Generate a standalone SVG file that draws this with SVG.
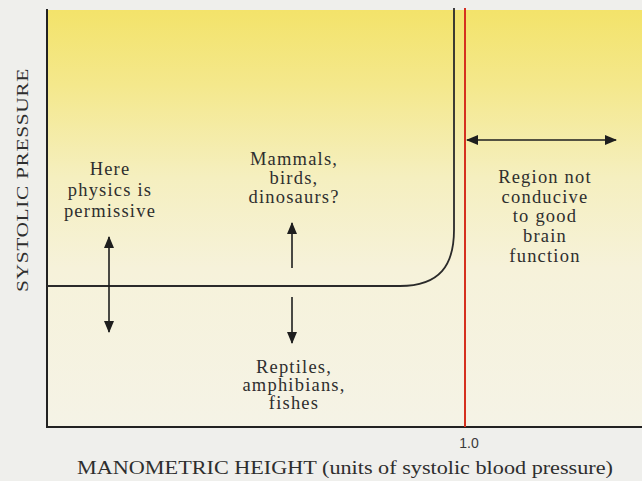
<svg xmlns="http://www.w3.org/2000/svg" width="642" height="481" viewBox="0 0 642 481">
  <defs>
    <linearGradient id="bg" x1="0" y1="0" x2="0" y2="1">
      <stop offset="0" stop-color="#f3e36a"/>
      <stop offset="0.18" stop-color="#f4e88c"/>
      <stop offset="0.4" stop-color="#f5efbf"/>
      <stop offset="0.62" stop-color="#f6f2da"/>
      <stop offset="1" stop-color="#f5f3e6"/>
    </linearGradient>
    <marker id="ah" viewBox="0 0 12 10" refX="11" refY="5" markerWidth="12" markerHeight="10" markerUnits="userSpaceOnUse" orient="auto-start-reverse">
      <path d="M0,0 L12,5 L0,10 Z" fill="#1e1e1e"/>
    </marker>
    <style>
      .t { font-family: "Liberation Serif", "Times New Roman", serif; font-size: 18.5px; fill: #2e2e2e; letter-spacing: 1.2px; text-anchor: middle; }
      .arrow { stroke: #1e1e1e; stroke-width: 1.6; fill: none; }
      .axis { stroke: #222; stroke-width: 2; fill: none; }
    </style>
  </defs>

  <rect x="0" y="0" width="642" height="481" fill="#efefec"/>
  <rect x="47" y="10" width="595" height="417" fill="url(#bg)"/>

  <g id="axes">
    <path class="axis" d="M47,9 V427 H642"/>
    <text x="22" y="180" transform="rotate(-90 22 180)" class="t" style="font-size:17px;letter-spacing:0.5px" dy="6" textLength="224" lengthAdjust="spacingAndGlyphs">SYSTOLIC PRESSURE</text>
    <text x="345" y="474" class="t" style="font-size:18px;letter-spacing:0" textLength="536" lengthAdjust="spacingAndGlyphs">MANOMETRIC HEIGHT (units of systolic blood pressure)</text>
    <text x="469" y="448" style="font-family:'Liberation Sans',Arial,sans-serif;font-size:14px;fill:#3a3a3a;text-anchor:middle">1.0</text>
  </g>

  <g id="boundary-curve">
    <path d="M47,286 H400 C440,286 454,265 454,230 V8" stroke="#2a2a2a" stroke-width="1.8" fill="none"/>
  </g>

  <g id="limit-line">
    <line x1="465" y1="8" x2="465" y2="427" stroke="#d5301f" stroke-width="2"/>
  </g>

  <g id="connectors">
    <line class="arrow" x1="109" y1="237" x2="109" y2="332" marker-start="url(#ah)" marker-end="url(#ah)"/>
    <line class="arrow" x1="292" y1="268" x2="292" y2="223" marker-end="url(#ah)"/>
    <line class="arrow" x1="292" y1="297" x2="292" y2="343" marker-end="url(#ah)"/>
    <line class="arrow" x1="467" y1="140" x2="616" y2="140" marker-start="url(#ah)" marker-end="url(#ah)"/>
  </g>

  <g id="physics-permissive">
    <text class="t" x="110" y="175">Here</text>
    <text class="t" x="110" y="196">physics is</text>
    <text class="t" x="110" y="217">permissive</text>
  </g>

  <g id="mammals">
    <text class="t" x="294" y="165">Mammals,</text>
    <text class="t" x="294" y="184">birds,</text>
    <text class="t" x="294" y="203">dinosaurs?</text>
  </g>

  <g id="reptiles">
    <text class="t" x="294" y="373">Reptiles,</text>
    <text class="t" x="294" y="391">amphibians,</text>
    <text class="t" x="294" y="409">fishes</text>
  </g>

  <g id="region-not-conducive">
    <text class="t" x="545" y="183">Region not</text>
    <text class="t" x="545" y="203">conducive</text>
    <text class="t" x="545" y="222">to good</text>
    <text class="t" x="545" y="242">brain</text>
    <text class="t" x="545" y="262">function</text>
  </g>
</svg>
